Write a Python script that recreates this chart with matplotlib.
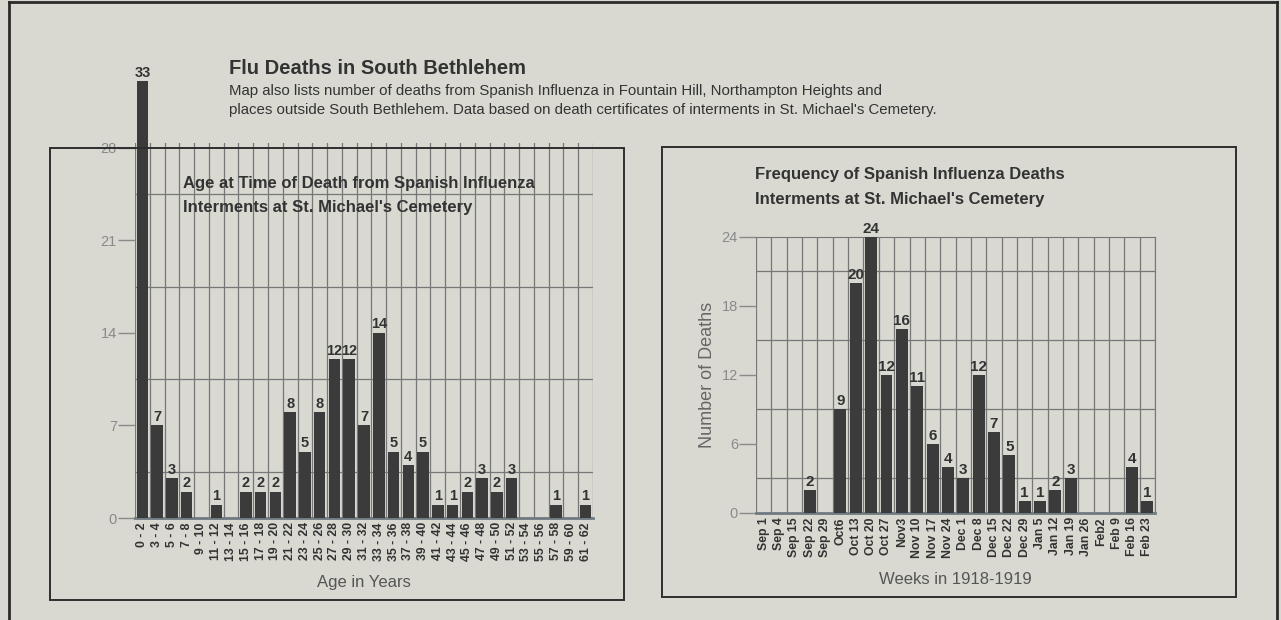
import matplotlib.pyplot as plt
from matplotlib.patches import Rectangle
from matplotlib.lines import Line2D

plt.rcParams['font.family'] = ['Liberation Sans', 'DejaVu Sans']

# age chart data
age_groups = ['0 - 2', '3 - 4', '5 - 6', '7 - 8', '9 - 10', '11 - 12', '13 - 14',
              '15 - 16', '17 - 18', '19 - 20', '21 - 22', '23 - 24', '25 - 26',
              '27 - 28', '29 - 30', '31 - 32', '33 - 34', '35 - 36', '37 - 38',
              '39 - 40', '41 - 42', '43 - 44', '45 - 46', '47 - 48', '49 - 50',
              '51 - 52', '53 - 54', '55 - 56', '57 - 58', '59 - 60', '61 - 62']
age_deaths = [33, 7, 3, 2, 0, 1, 0, 2, 2, 2, 8, 5, 8, 12, 12, 7, 14, 5, 4, 5,
              1, 1, 2, 3, 2, 3, 0, 0, 1, 0, 1]

# weekly chart data
weeks = ['Sep 1', 'Sep 4', 'Sep 15', 'Sep 22', 'Sep 29', 'Oct6', 'Oct 13',
         'Oct 20', 'Oct 27', 'Nov3', 'Nov 10', 'Nov 17', 'Nov 24', 'Dec 1',
         'Dec 8', 'Dec 15', 'Dec 22', 'Dec 29', 'Jan 5', 'Jan 12', 'Jan 19',
         'Jan 26', 'Feb2', 'Feb 9', 'Feb 16', 'Feb 23']
week_deaths = [0, 0, 0, 2, 0, 9, 20, 24, 12, 16, 11, 6, 4, 3, 12, 7, 5, 1, 1,
               2, 3, 0, 0, 0, 4, 1]

paper = '#d9d9d2'
ink = '#333333'
bar_c = '#3b3b3b'
grid_c = '#777777'
tick_c = '#8a8a8a'

fig = plt.figure(figsize=(12.81, 6.20), dpi=100, facecolor=paper)

# outer frame and panel boxes
fig.add_artist(Line2D([0.007, 0.997], [0.996, 0.996], color='#2a2a2a', lw=2))
fig.add_artist(Line2D([0.007, 0.007], [0, 0.996], color='#2a2a2a', lw=2))
fig.add_artist(Line2D([0.997, 0.997], [0, 0.996], color='#2a2a2a', lw=2))
fig.add_artist(Rectangle((0.039, 0.032), 0.448, 0.730, fill=False, ec='#2e2e2e', lw=1.4))
fig.add_artist(Rectangle((0.517, 0.037), 0.448, 0.726, fill=False, ec='#2e2e2e', lw=1.4))

fig.text(0.179, 0.889, 'Flu Deaths in South Bethlehem', fontsize=14.5,
         fontweight='bold', color=ink, va='center')
fig.text(0.179, 0.853, 'Map also lists number of deaths from Spanish Influenza in '
         'Fountain Hill, Northampton Heights and', fontsize=10.8, color=ink, va='center')
fig.text(0.179, 0.822, "places outside South Bethlehem. Data based on death "
         "certificates of interments in St. Michael's Cemetery.",
         fontsize=10.8, color=ink, va='center')


def style_axes(ax, n, ytop, minor):
    ax.set_facecolor('none')
    ax.set_xlim(-0.5, n - 0.5)
    ax.set_xticks([i + 0.5 for i in range(-1, n)], minor=True)
    ax.set_yticks([k * minor for k in range(int(ytop / minor) + 1)], minor=True)
    ax.grid(which='minor', color=grid_c, lw=0.9)
    ax.tick_params(which='minor', length=0)
    ax.tick_params(axis='y', which='major', length=12, width=1, color=tick_c,
                   labelcolor=tick_c, labelsize=10.5, pad=1)
    ax.tick_params(axis='x', which='major', length=0, labelcolor=ink,
                   labelsize=8.8, pad=3)
    for s in ['top', 'left', 'right']:
        ax.spines[s].set_visible(False)
    ax.spines['bottom'].set_color('#6f7a80')
    ax.spines['bottom'].set_linewidth(2)
    ax.set_axisbelow(True)


# left chart
ax1 = fig.add_axes([0.1054, 0.1645, 0.3575, 0.6049])
x1 = list(range(len(age_groups)))
bars1 = ax1.bar(x1, age_deaths, width=0.78, color=bar_c, clip_on=False, zorder=3)
ax1.set_ylim(0, 28.35)
ax1.set_yticks([0, 7, 14, 21, 28])
style_axes(ax1, len(age_groups), 28, 3.5)
ax1.set_xticks(x1)
ax1.set_xticklabels(age_groups, rotation=90, fontweight='bold')
for t in ax1.bar_label(bars1, labels=[str(v) if v else '' for v in age_deaths],
                       padding=1, fontsize=10.5, fontweight='bold', color=ink):
    t.set_annotation_clip(False)
ax1.set_xlabel('Age in Years', fontsize=12, color='#555555', labelpad=10)
ax1.text(0.105, 0.893, 'Age at Time of Death from Spanish Influenza',
         transform=ax1.transAxes, fontsize=12, fontweight='bold', color=ink, va='center')
ax1.text(0.105, 0.829, "Interments at St. Michael's Cemetery",
         transform=ax1.transAxes, fontsize=12, fontweight='bold', color=ink, va='center')

# right chart
ax2 = fig.add_axes([0.5902, 0.1726, 0.3115, 0.4452])
x2 = list(range(len(weeks)))
bars2 = ax2.bar(x2, week_deaths, width=0.78, color=bar_c, zorder=3)
ax2.set_ylim(0, 24)
ax2.set_yticks([0, 6, 12, 18, 24])
style_axes(ax2, len(weeks), 24, 3)
ax2.spines['right'].set_visible(True)
ax2.spines['right'].set_color(grid_c)
ax2.spines['top'].set_visible(True)
ax2.spines['top'].set_color(grid_c)
ax2.set_xticks(x2)
ax2.set_xticklabels(weeks, rotation=90, fontweight='bold')
for t in ax2.bar_label(bars2, labels=[str(v) if v else '' for v in week_deaths],
                       padding=1, fontsize=11, fontweight='bold', color=ink):
    t.set_annotation_clip(False)
ax2.set_xlabel('Weeks in 1918-1919', fontsize=12, color='#555555', labelpad=10)
ax2.set_ylabel('Number of Deaths', fontsize=13, color='#666666', labelpad=4)
fig.text(0.589, 0.718, 'Frequency of Spanish Influenza Deaths', fontsize=12,
         fontweight='bold', color=ink, va='center')
fig.text(0.589, 0.679, "Interments at St. Michael's Cemetery", fontsize=12,
         fontweight='bold', color=ink, va='center')

fig.savefig('out.png', dpi=100, facecolor=paper)
